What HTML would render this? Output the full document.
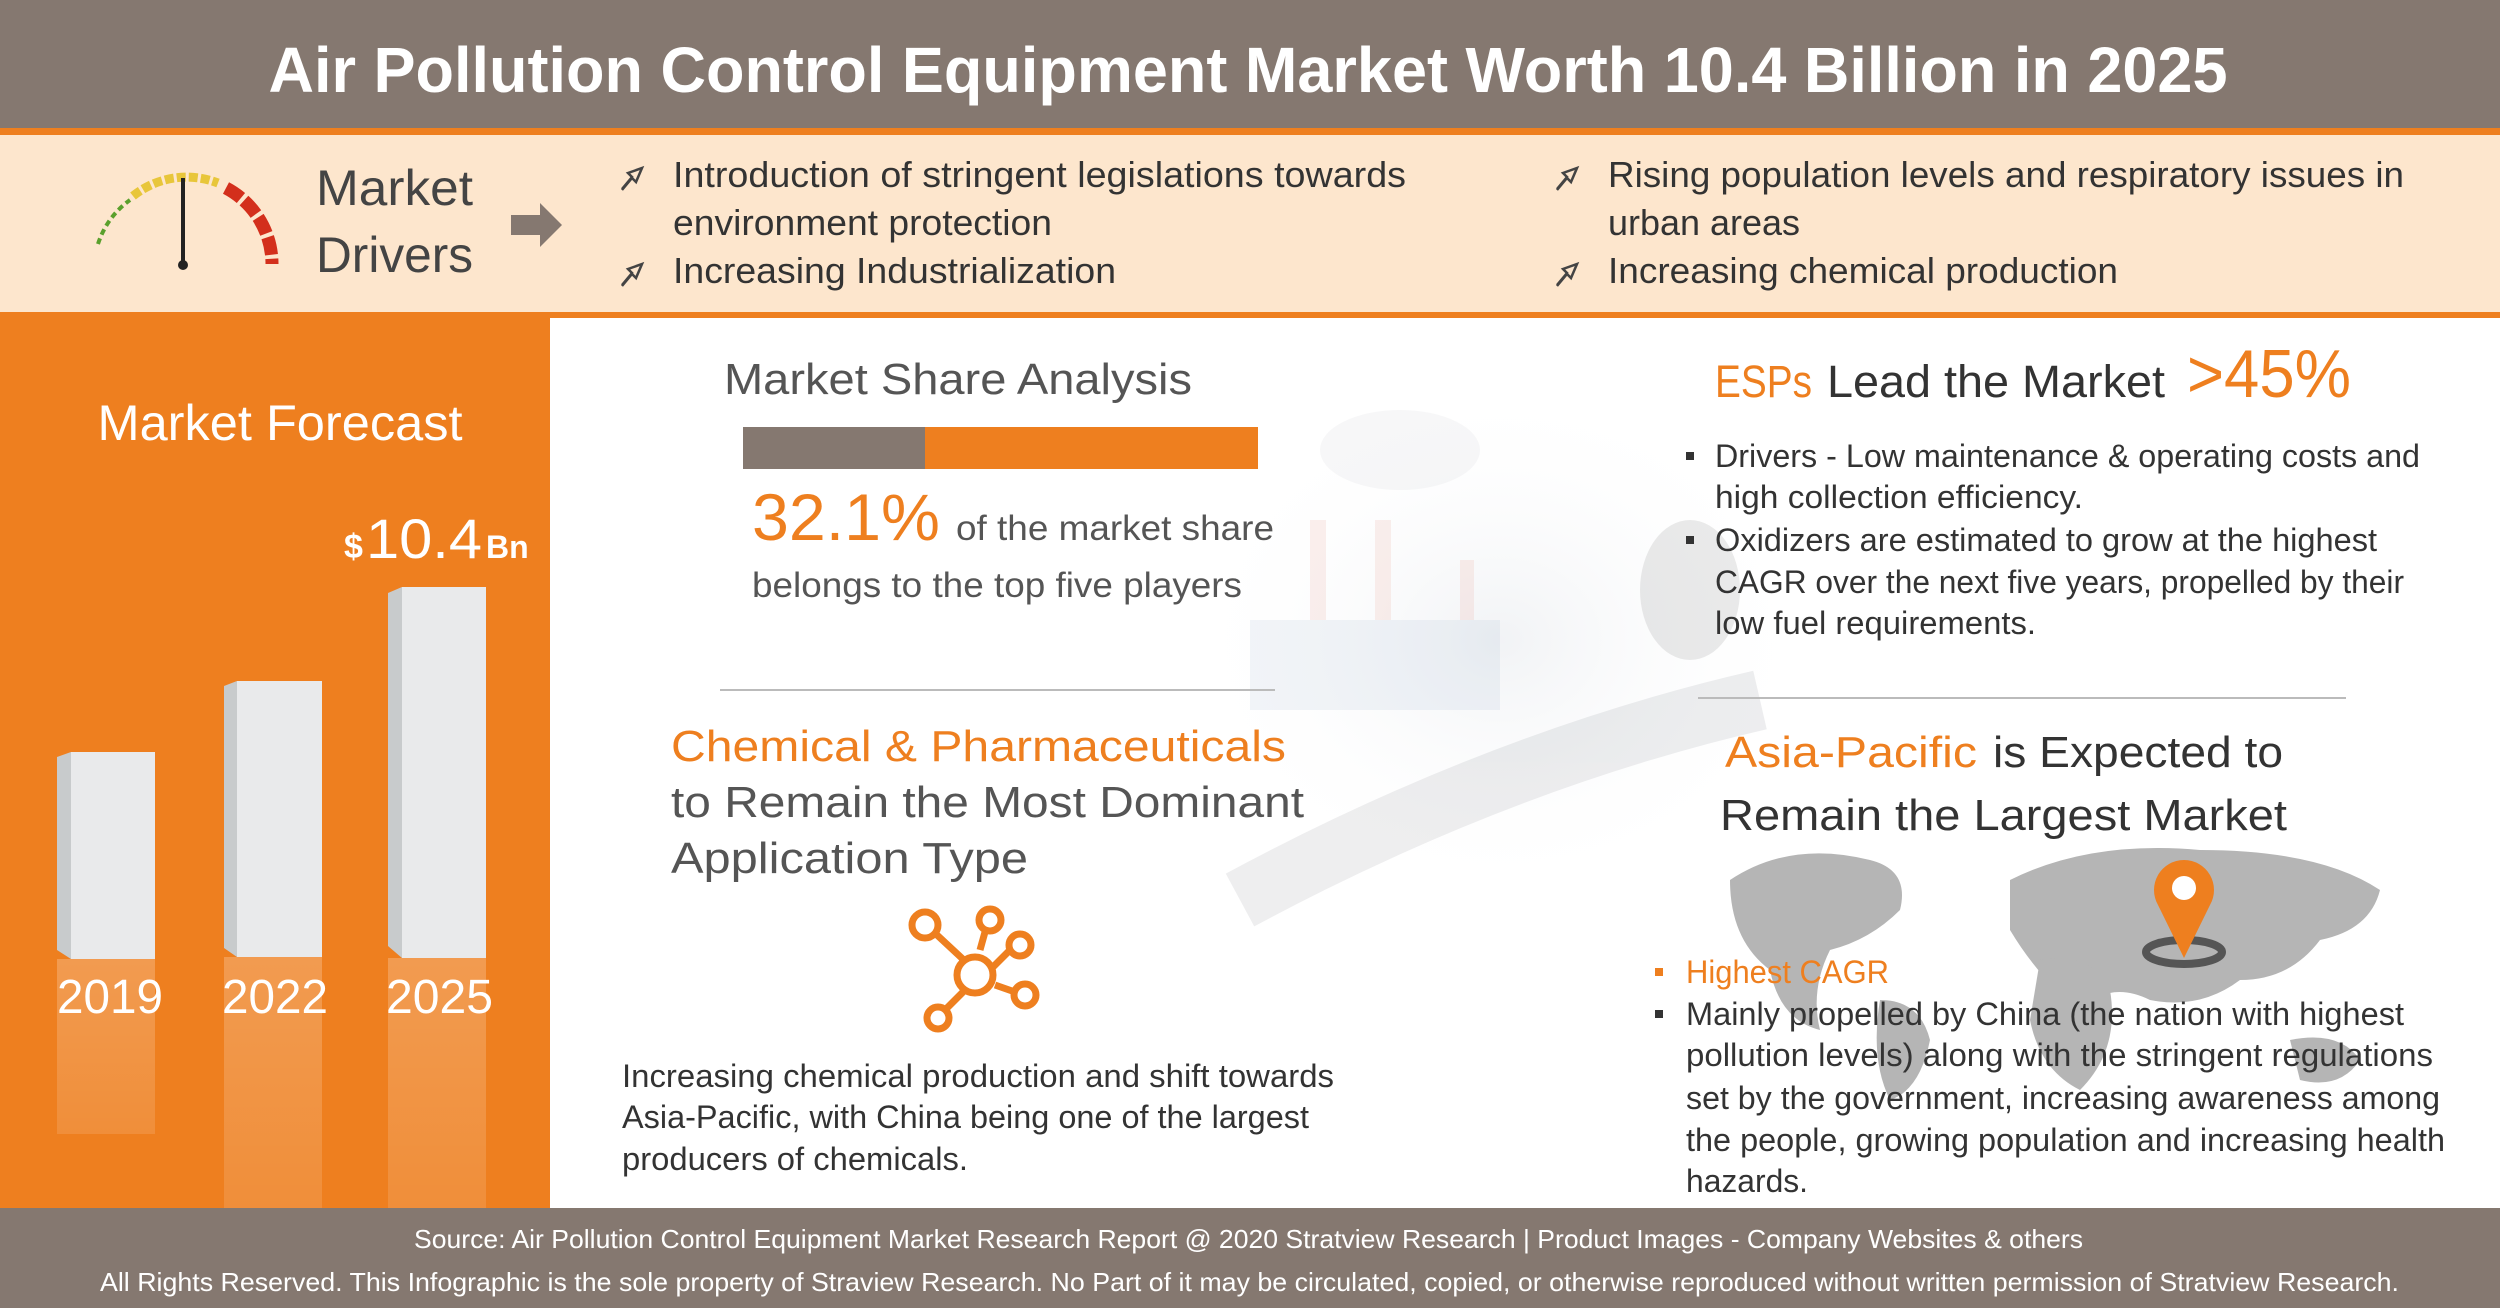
<!DOCTYPE html>
<html><head><meta charset="utf-8"><style>html,body{margin:0;padding:0;background:#fff}svg{display:block}</style></head>
<body>
<svg width="2500" height="1308" viewBox="0 0 2500 1308" xmlns="http://www.w3.org/2000/svg" font-family="Liberation Sans, Arial, sans-serif">
<defs>
<radialGradient id="fog" cx="50%" cy="50%" r="50%"><stop offset="0" stop-color="#eef0f3" stop-opacity="0.8"/><stop offset="1" stop-color="#fff" stop-opacity="0"/></radialGradient>
<linearGradient id="refl" x1="0" y1="0" x2="0" y2="1"><stop offset="0" stop-color="#fff" stop-opacity="0.22"/><stop offset="1" stop-color="#fff" stop-opacity="0.12"/></linearGradient>
</defs>
<rect x="0" y="0" width="2500" height="128" fill="#857870"/>
<text x="1248" y="92" fill="#fff" font-size="64" font-weight="bold" text-anchor="middle" textLength="1959" lengthAdjust="spacingAndGlyphs">Air Pollution Control Equipment Market Worth 10.4 Billion in 2025</text>
<rect x="0" y="128" width="2500" height="7" fill="#ee7f1f"/>
<rect x="0" y="135" width="2500" height="177" fill="#fde6cd"/>
<rect x="0" y="312" width="2500" height="6" fill="#ee7f1f"/>
<g fill="none" stroke-width="9">
<path d="M98 244 A86 86 0 0 1 130 200" stroke="#5aa02c" stroke-dasharray="6 4" stroke-width="4"/>
<path d="M133 196 A86 86 0 0 1 218 183" stroke="#e8c63a" stroke-dasharray="9 3"/>
<path d="M226 188 A86 86 0 0 1 272 264" stroke="#d32f1c" stroke-width="13" stroke-dasharray="18 4"/>
</g>
<line x1="183" y1="178" x2="183" y2="262" stroke="#222" stroke-width="4"/>
<circle cx="183" cy="265" r="5" fill="#222"/>
<text x="316" y="205" fill="#444" font-size="50" textLength="157" lengthAdjust="spacingAndGlyphs">Market</text>
<text x="316" y="272" fill="#444" font-size="50" textLength="157" lengthAdjust="spacingAndGlyphs">Drivers</text>
<polygon points="511,215 540,215 540,203 562,225 540,247 540,235 511,235" fill="#857870"/>
<g fill="#333" font-size="36">
<text x="673" y="187" textLength="733" lengthAdjust="spacingAndGlyphs">Introduction of stringent legislations towards</text>
<text x="673" y="235" textLength="379" lengthAdjust="spacingAndGlyphs">environment protection</text>
<text x="673" y="283" textLength="443" lengthAdjust="spacingAndGlyphs">Increasing Industrialization</text>
<text x="1608" y="187" textLength="796" lengthAdjust="spacingAndGlyphs">Rising population levels and respiratory issues in</text>
<text x="1608" y="235" textLength="192" lengthAdjust="spacingAndGlyphs">urban areas</text>
<text x="1608" y="283" textLength="510" lengthAdjust="spacingAndGlyphs">Increasing chemical production</text>
</g>
<g fill="none" stroke="#444" stroke-width="2.5">
<path d="M622 190 l10 -12 l4 4 l6 -14 l-14 5 l4 4 l-10 12"/>
<path d="M622 286 l10 -12 l4 4 l6 -14 l-14 5 l4 4 l-10 12"/>
<path d="M1557 190 l10 -12 l4 4 l6 -14 l-14 5 l4 4 l-10 12"/>
<path d="M1557 286 l10 -12 l4 4 l6 -14 l-14 5 l4 4 l-10 12"/>
</g>
<!-- left panel -->
<rect x="0" y="318" width="550" height="890" fill="#ee7f1f"/>
<text x="280" y="440" fill="#fff" font-size="50" text-anchor="middle" textLength="365" lengthAdjust="spacingAndGlyphs">Market Forecast</text>
<text x="344" y="558" fill="#fff" font-size="34" font-weight="bold">$</text>
<text x="366" y="558" fill="#fff" font-size="56" textLength="116" lengthAdjust="spacingAndGlyphs">10.4</text>
<text x="486" y="558" fill="#fff" font-size="32" font-weight="bold">Bn</text>
<g>
<polygon points="57,757 71,752 71,959 57,950" fill="#c8cbcc"/><rect x="71" y="752" width="84" height="207" fill="#e9eaeb"/>
<rect x="57" y="959" width="98" height="175" fill="url(#refl)"/>
<polygon points="224,686 237,681 237,957 224,948" fill="#c8cbcc"/><rect x="237" y="681" width="85" height="276" fill="#e9eaeb"/>
<rect x="224" y="957" width="98" height="251" fill="url(#refl)"/>
<polygon points="388,593 402,587 402,958 388,946" fill="#c8cbcc"/><rect x="402" y="587" width="84" height="371" fill="#e9eaeb"/>
<rect x="388" y="958" width="98" height="250" fill="url(#refl)"/>
</g>
<g fill="#fff" font-size="48">
<text x="57" y="1013" textLength="106" lengthAdjust="spacingAndGlyphs">2019</text>
<text x="222" y="1013" textLength="106" lengthAdjust="spacingAndGlyphs">2022</text>
<text x="386" y="1013" textLength="107" lengthAdjust="spacingAndGlyphs">2025</text>
</g>
<!-- faint background illustration -->
<ellipse cx="1500" cy="640" rx="320" ry="260" fill="url(#fog)"/>
<g opacity="0.15">
<rect x="1310" y="520" width="16" height="180" fill="#e89a8a"/>
<rect x="1375" y="520" width="16" height="180" fill="#e89a8a"/>
<rect x="1460" y="560" width="14" height="140" fill="#e89a8a"/>
<rect x="1250" y="620" width="250" height="90" fill="#a9bcd4"/>
<path d="M1240 900 Q1500 760 1760 700" stroke="#8a8f96" stroke-width="60" fill="none"/>
<ellipse cx="1690" cy="590" rx="50" ry="70" fill="#777"/>
<ellipse cx="1400" cy="450" rx="80" ry="40" fill="#c7cbd1"/>
</g>
<text x="724" y="394" fill="#555" font-size="44" textLength="468" lengthAdjust="spacingAndGlyphs">Market Share Analysis</text>
<rect x="743" y="427" width="182" height="42" fill="#857870"/>
<rect x="925" y="427" width="333" height="42" fill="#ee7f1f"/>
<text x="752" y="540" fill="#ee7f1f" font-size="66" textLength="188" lengthAdjust="spacingAndGlyphs">32.1%</text>
<text x="956" y="540" fill="#555" font-size="35" textLength="318" lengthAdjust="spacingAndGlyphs">of the market share</text>
<text x="752" y="597" fill="#555" font-size="35" textLength="490" lengthAdjust="spacingAndGlyphs">belongs to the top five players</text>
<line x1="720" y1="690" x2="1275" y2="690" stroke="#bbb" stroke-width="2"/>
<text x="671" y="761" fill="#ee7f1f" font-size="44" textLength="615" lengthAdjust="spacingAndGlyphs">Chemical &amp; Pharmaceuticals</text>
<text x="671" y="817" fill="#555" font-size="44" textLength="633" lengthAdjust="spacingAndGlyphs">to Remain the Most Dominant</text>
<text x="671" y="873" fill="#555" font-size="44" textLength="357" lengthAdjust="spacingAndGlyphs">Application Type</text>
<g stroke="#ee7f1f" stroke-width="7" fill="none">
<line x1="937" y1="935" x2="966" y2="962"/><line x1="980" y1="950" x2="985" y2="932"/>
<line x1="990" y1="970" x2="1010" y2="950"/><line x1="995" y1="985" x2="1015" y2="992"/>
<line x1="965" y1="990" x2="945" y2="1010"/>
<circle cx="925" cy="925" r="13"/><circle cx="990" cy="920" r="11"/><circle cx="1020" cy="945" r="11"/>
<circle cx="1025" cy="995" r="11"/><circle cx="938" cy="1018" r="11"/><circle cx="975" cy="975" r="18"/>
</g>
<g fill="#333" font-size="32">
<text x="622" y="1087" textLength="712" lengthAdjust="spacingAndGlyphs">Increasing chemical production and shift towards</text>
<text x="622" y="1128" textLength="687" lengthAdjust="spacingAndGlyphs">Asia-Pacific, with China being one of the largest</text>
<text x="622" y="1170" textLength="346" lengthAdjust="spacingAndGlyphs">producers of chemicals.</text>
</g>
<text x="1715" y="397" fill="#ee7f1f" font-size="45" textLength="97" lengthAdjust="spacingAndGlyphs">ESPs</text>
<text x="1827" y="397" fill="#333" font-size="45" textLength="338" lengthAdjust="spacingAndGlyphs">Lead the Market</text>
<text x="2187" y="397" fill="#ee7f1f" font-size="68" textLength="164" lengthAdjust="spacingAndGlyphs">&gt;45%</text>
<g fill="#333" font-size="32">
<rect x="1686" y="452" width="8" height="8"/><rect x="1686" y="536" width="8" height="8"/>
<text x="1715" y="467" textLength="705" lengthAdjust="spacingAndGlyphs">Drivers - Low maintenance &amp; operating costs and</text>
<text x="1715" y="508" textLength="368" lengthAdjust="spacingAndGlyphs">high collection efficiency.</text>
<text x="1715" y="551" textLength="662" lengthAdjust="spacingAndGlyphs">Oxidizers are estimated to grow at the highest</text>
<text x="1715" y="593" textLength="689" lengthAdjust="spacingAndGlyphs">CAGR over the next five years, propelled by their</text>
<text x="1715" y="634" textLength="321" lengthAdjust="spacingAndGlyphs">low fuel requirements.</text>
</g>
<line x1="1698" y1="698" x2="2346" y2="698" stroke="#bbb" stroke-width="2"/>
<text x="1725" y="767" fill="#ee7f1f" font-size="44" textLength="252" lengthAdjust="spacingAndGlyphs">Asia-Pacific</text>
<text x="1993" y="767" fill="#333" font-size="44" textLength="290" lengthAdjust="spacingAndGlyphs">is Expected to</text>
<text x="1720" y="830" fill="#333" font-size="44" textLength="567" lengthAdjust="spacingAndGlyphs">Remain the Largest Market</text>
<g fill="#b5b5b5">
<path d="M1730 880 q60 -40 140 -20 q40 10 30 50 q-30 30 -70 40 q-20 40 -10 80 q-40 -10 -50 -60 q-40 -30 -40 -90z"/>
<path d="M1880 1000 q40 0 50 40 q-10 50 -40 60 q-20 -40 -10 -100z"/>
<path d="M2010 880 q80 -40 190 -30 q120 0 180 40 q-10 40 -60 50 q-30 40 -80 40 q-40 30 -90 20 q-40 -20 -70 10 q-40 -30 -70 -80z"/>
<path d="M2040 960 q50 -10 70 30 q10 60 -30 100 q-40 -20 -50 -70z"/>
<path d="M2290 1040 q50 -10 70 20 q-20 30 -60 20z"/>
</g>
<ellipse cx="2184" cy="952" rx="38" ry="12" fill="none" stroke="#555" stroke-width="8"/>
<path d="M2184 958 L2158 905 A30 30 0 1 1 2210 905 Z" fill="#ee7f1f"/>
<circle cx="2184" cy="888" r="12" fill="#fff"/>
<rect x="1655" y="968" width="8" height="8" fill="#ee7f1f"/>
<text x="1686" y="983" fill="#ee7f1f" font-size="32" textLength="203" lengthAdjust="spacingAndGlyphs">Highest CAGR</text>
<g fill="#333" font-size="32">
<rect x="1655" y="1010" width="8" height="8"/>
<text x="1686" y="1025" textLength="718" lengthAdjust="spacingAndGlyphs">Mainly propelled by China (the nation with highest</text>
<text x="1686" y="1066" textLength="747" lengthAdjust="spacingAndGlyphs">pollution levels) along with the stringent regulations</text>
<text x="1686" y="1109" textLength="754" lengthAdjust="spacingAndGlyphs">set by the government, increasing awareness among</text>
<text x="1686" y="1151" textLength="759" lengthAdjust="spacingAndGlyphs">the people, growing population and increasing health</text>
<text x="1686" y="1192" textLength="122" lengthAdjust="spacingAndGlyphs">hazards.</text>
</g>
<rect x="0" y="1208" width="2500" height="100" fill="#857870"/>
<text x="414" y="1248" fill="#fff" font-size="26" textLength="1669" lengthAdjust="spacingAndGlyphs">Source: Air Pollution Control Equipment Market Research Report @ 2020 Stratview Research | Product Images  - Company Websites &amp; others</text>
<text x="100" y="1291" fill="#fff" font-size="26" textLength="2299" lengthAdjust="spacingAndGlyphs">All Rights Reserved. This Infographic is the sole property of Straview Research. No Part of it may be circulated, copied, or otherwise reproduced without written permission of Stratview Research.</text>
</svg>
</body></html>
